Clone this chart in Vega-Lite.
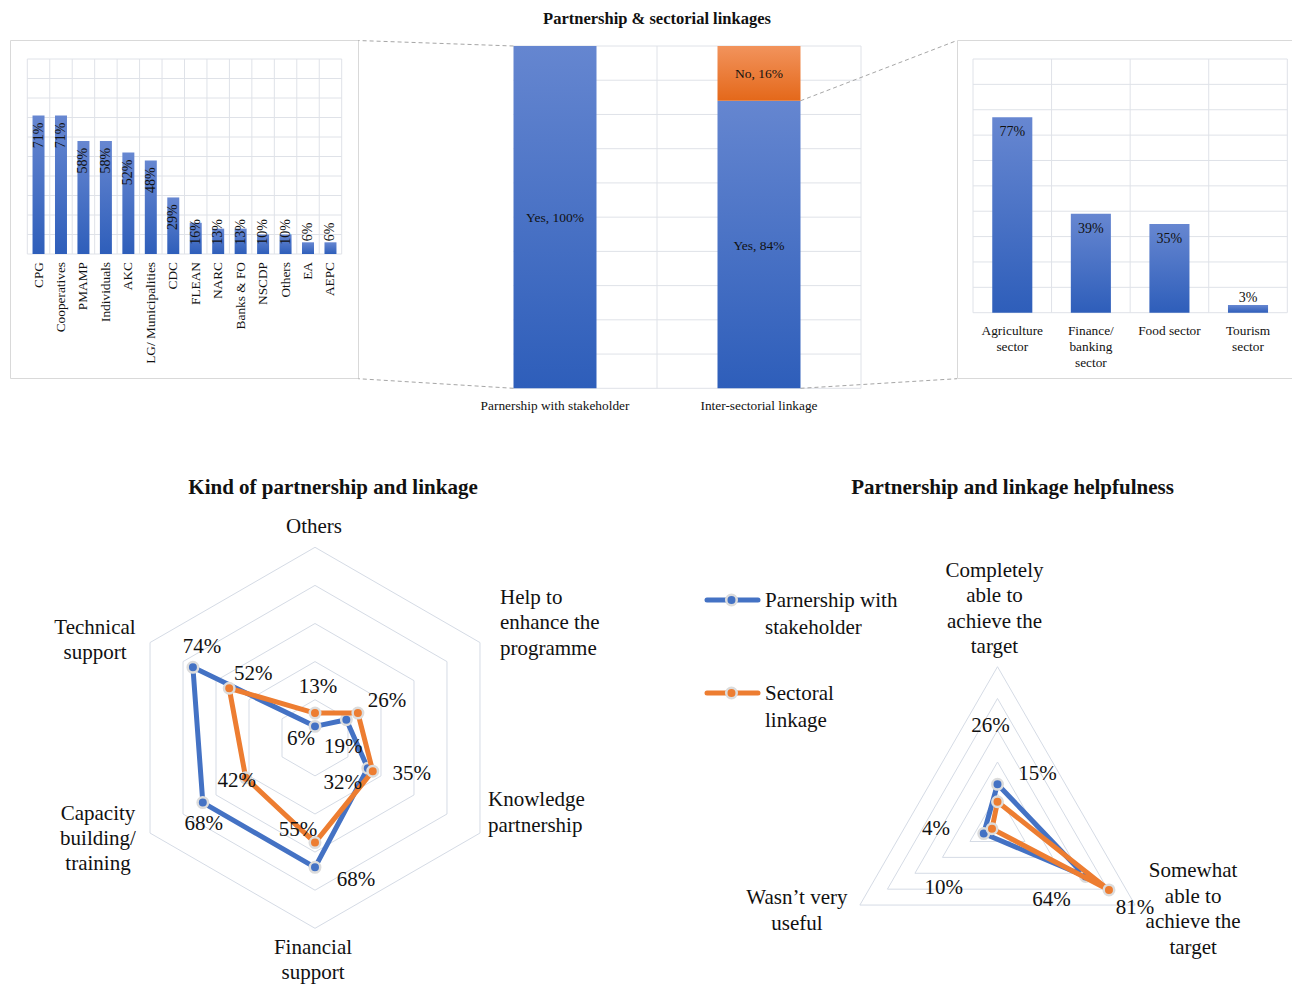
{
  "$schema": "https://vega.github.io/schema/vega-lite/v6.json",
  "width": 1292,
  "height": 985,
  "padding": 0,
  "autosize": {"type": "none"},
  "background": "#ffffff",
  "config": {
    "view": {"stroke": null},
    "axis": {"disable": true},
    "legend": {"disable": true},
    "font": "Liberation Serif",
    "text": {"font": "Liberation Serif", "color": "#111111"}
  },
  "datasets": {
    "partners": [
      {"org": "CPG", "share": 0.71},
      {"org": "Cooperatives", "share": 0.71},
      {"org": "PMAMP", "share": 0.58},
      {"org": "Individuals", "share": 0.58},
      {"org": "AKC", "share": 0.52},
      {"org": "LG/ Municipalities", "share": 0.48},
      {"org": "CDC", "share": 0.29},
      {"org": "FLEAN", "share": 0.16},
      {"org": "NARC", "share": 0.13},
      {"org": "Banks & FO", "share": 0.13},
      {"org": "NSCDP", "share": 0.10},
      {"org": "Others", "share": 0.10},
      {"org": "EA", "share": 0.06},
      {"org": "AEPC", "share": 0.06}
    ],
    "linkage": [
      {"group": "Parnership with stakeholder", "answer": "Yes", "share": 1.0},
      {"group": "Inter-sectorial linkage", "answer": "Yes", "share": 0.84},
      {"group": "Inter-sectorial linkage", "answer": "No", "share": 0.16}
    ],
    "sectors": [
      {"sector": "Agriculture sector", "label": "Agriculture\nsector", "share": 0.77},
      {"sector": "Finance/ banking sector", "label": "Finance/\nbanking\nsector", "share": 0.39},
      {"sector": "Food sector", "label": "Food sector", "share": 0.35},
      {"sector": "Tourism sector", "label": "Tourism\nsector", "share": 0.03}
    ],
    "ticks": [
      {"v": 0}, {"v": 0.1}, {"v": 0.2}, {"v": 0.3}, {"v": 0.4}, {"v": 0.5},
      {"v": 0.6}, {"v": 0.7}, {"v": 0.8}, {"v": 0.9}, {"v": 1.0}
    ],
    "kinds": [
      {"kind": "Others", "k": 0, "series": "Parnership with stakeholder", "share": 0.06},
      {"kind": "Help to enhance the programme", "k": 1, "series": "Parnership with stakeholder", "share": 0.19},
      {"kind": "Knowledge partnership", "k": 2, "series": "Parnership with stakeholder", "share": 0.32},
      {"kind": "Financial support", "k": 3, "series": "Parnership with stakeholder", "share": 0.68},
      {"kind": "Capacity building/ training", "k": 4, "series": "Parnership with stakeholder", "share": 0.68},
      {"kind": "Technical support", "k": 5, "series": "Parnership with stakeholder", "share": 0.74},
      {"kind": "Others", "k": 0, "series": "Sectoral linkage", "share": 0.13},
      {"kind": "Help to enhance the programme", "k": 1, "series": "Sectoral linkage", "share": 0.26},
      {"kind": "Knowledge partnership", "k": 2, "series": "Sectoral linkage", "share": 0.35},
      {"kind": "Financial support", "k": 3, "series": "Sectoral linkage", "share": 0.55},
      {"kind": "Capacity building/ training", "k": 4, "series": "Sectoral linkage", "share": 0.42},
      {"kind": "Technical support", "k": 5, "series": "Sectoral linkage", "share": 0.52}
    ],
    "kind_axes": [
      {"k": 0, "label": "Others"},
      {"k": 1, "label": "Help to\nenhance the\nprogramme"},
      {"k": 2, "label": "Knowledge\npartnership"},
      {"k": 3, "label": "Financial\nsupport"},
      {"k": 4, "label": "Capacity\nbuilding/\ntraining"},
      {"k": 5, "label": "Technical\nsupport"}
    ],
    "helpful": [
      {"outcome": "Completely able to achieve the target", "k": 0, "series": "Parnership with stakeholder", "share": 0.26},
      {"outcome": "Somewhat able to achieve the target", "k": 1, "series": "Parnership with stakeholder", "share": 0.64},
      {"outcome": "Wasn’t very useful", "k": 2, "series": "Parnership with stakeholder", "share": 0.10},
      {"outcome": "Completely able to achieve the target", "k": 0, "series": "Sectoral linkage", "share": 0.15},
      {"outcome": "Somewhat able to achieve the target", "k": 1, "series": "Sectoral linkage", "share": 0.81},
      {"outcome": "Wasn’t very useful", "k": 2, "series": "Sectoral linkage", "share": 0.04}
    ],
    "helpful_axes": [
      {"k": 0, "label": "Completely\nable to\nachieve the\ntarget"},
      {"k": 1, "label": "Somewhat\nable to\nachieve the\ntarget"},
      {"k": 2, "label": "Wasn’t very\nuseful"}
    ],
    "hex_rings": [
      {"level": 0.2, "k": [0, 1, 2, 3, 4, 5]},
      {"level": 0.4, "k": [0, 1, 2, 3, 4, 5]},
      {"level": 0.6, "k": [0, 1, 2, 3, 4, 5]},
      {"level": 0.8, "k": [0, 1, 2, 3, 4, 5]},
      {"level": 1.0, "k": [0, 1, 2, 3, 4, 5]}
    ],
    "tri_rings": [
      {"level": 0.2, "k": [0, 1, 2]},
      {"level": 0.4, "k": [0, 1, 2]},
      {"level": 0.6, "k": [0, 1, 2]},
      {"level": 0.8, "k": [0, 1, 2]},
      {"level": 1.0, "k": [0, 1, 2]}
    ],
    "series": [
      {"series": "Parnership with stakeholder", "label": "Parnership with\nstakeholder"},
      {"series": "Sectoral linkage", "label": "Sectoral\nlinkage"}
    ]
  },
  "resolve": {"scale": {"x": "independent", "y": "independent", "color": "independent"}},
  "layer": [
    {
      "data": {"values": [{"frame": "partners"}]},
      "mark": {"type": "rect", "fill": "transparent", "stroke": "#d9d9d9", "strokeWidth": 1},
      "encoding": {
        "x": {"datum": 0, "type": "quantitative", "scale": {"domain": [0, 1], "range": [10.5, 358.5], "nice": false, "zero": false}},
        "x2": {"datum": 1},
        "y": {"datum": 0, "type": "quantitative", "scale": {"domain": [0, 1], "range": [378.5, 40.5], "nice": false, "zero": false}},
        "y2": {"datum": 1}
      }
    },
    {
      "data": {"values": [{"frame": "sectors"}]},
      "mark": {"type": "rect", "fill": "transparent", "stroke": "#d9d9d9", "strokeWidth": 1},
      "encoding": {
        "x": {"datum": 0, "type": "quantitative", "scale": {"domain": [0, 1], "range": [957.5, 1300], "nice": false, "zero": false}},
        "x2": {"datum": 1},
        "y": {"datum": 0, "type": "quantitative", "scale": {"domain": [0, 1], "range": [378.5, 40.5], "nice": false, "zero": false}},
        "y2": {"datum": 1}
      }
    },
    {
      "data": {"name": "partners"},
      "layer": [
        {
          "mark": {"type": "rule", "color": "#dfe2e8", "strokeWidth": 1},
          "encoding": {
            "x": {"field": "org", "type": "nominal", "bandPosition": 0,
              "scale": {"domain": ["CPG", "Cooperatives", "PMAMP", "Individuals", "AKC", "LG/ Municipalities", "CDC", "FLEAN", "NARC", "Banks & FO", "NSCDP", "Others", "EA", "AEPC"],
                        "range": [27.3, 341.7], "paddingInner": 0, "paddingOuter": 0}},
            "y": {"datum": 0, "type": "quantitative", "scale": {"domain": [0, 1], "range": [254, 59], "nice": false}},
            "y2": {"datum": 1}
          }
        },
        {
          "data": {"values": [{"edge": "end"}]},
          "mark": {"type": "rule", "color": "#dfe2e8", "strokeWidth": 1},
          "encoding": {
            "x": {"datum": "AEPC", "type": "nominal", "bandPosition": 1},
            "y": {"datum": 0, "type": "quantitative"},
            "y2": {"datum": 1}
          }
        },
        {
          "data": {"name": "ticks"},
          "mark": {"type": "rule", "color": "#dfe2e8", "strokeWidth": 1},
          "encoding": {
            "y": {"field": "v", "type": "quantitative"},
            "x": {"datum": "CPG", "type": "nominal", "bandPosition": 0},
            "x2": {"datum": "AEPC", "bandPosition": 1}
          }
        },
        {
          "mark": {"type": "bar", "width": {"band": 0.534},
            "color": {"gradient": "linear", "x1": 0, "y1": 0, "x2": 0, "y2": 1,
              "stops": [{"offset": 0, "color": "#6787d1"}, {"offset": 1, "color": "#2e5eba"}]}},
          "encoding": {
            "x": {"field": "org", "type": "nominal"},
            "y": {"field": "share", "type": "quantitative"}
          }
        },
        {
          "transform": [{"filter": "datum.share >= 0.2"}],
          "mark": {"type": "text", "angle": 270, "align": "right", "baseline": "middle", "dx": -7, "fontSize": 14},
          "encoding": {
            "x": {"field": "org", "type": "nominal"},
            "y": {"field": "share", "type": "quantitative"},
            "text": {"field": "share", "type": "quantitative", "format": ".0%"}
          }
        },
        {
          "transform": [{"filter": "datum.share < 0.2"}],
          "mark": {"type": "text", "angle": 270, "align": "center", "baseline": "middle", "dx": 22, "fontSize": 14},
          "encoding": {
            "x": {"field": "org", "type": "nominal"},
            "y": {"datum": 0, "type": "quantitative"},
            "text": {"field": "share", "type": "quantitative", "format": ".0%"}
          }
        },
        {
          "mark": {"type": "text", "angle": 270, "align": "right", "baseline": "middle", "dx": -8, "fontSize": 13.33},
          "encoding": {
            "x": {"field": "org", "type": "nominal"},
            "y": {"datum": 0, "type": "quantitative"},
            "text": {"field": "org", "type": "nominal"}
          }
        }
      ]
    },
    {
      "data": {"name": "linkage"},
      "layer": [
        {
          "data": {"name": "ticks"},
          "mark": {"type": "rule", "color": "#dfe2e8", "strokeWidth": 1},
          "encoding": {
            "y": {"field": "v", "type": "quantitative", "scale": {"domain": [0, 1], "range": [388.3, 46], "nice": false}},
            "x": {"datum": "Parnership with stakeholder", "type": "nominal", "bandPosition": 0.2966,
              "scale": {"domain": ["Parnership with stakeholder", "Inter-sectorial linkage"], "range": [453, 861], "paddingInner": 0, "paddingOuter": 0}},
            "x2": {"datum": "Inter-sectorial linkage", "bandPosition": 1}
          }
        },
        {
          "data": {"values": [{"edge": "middle"}]},
          "mark": {"type": "rule", "color": "#dfe2e8", "strokeWidth": 1},
          "encoding": {
            "x": {"datum": "Inter-sectorial linkage", "type": "nominal", "bandPosition": 0},
            "y": {"datum": 0, "type": "quantitative"},
            "y2": {"datum": 1}
          }
        },
        {
          "data": {"values": [{"edge": "end"}]},
          "mark": {"type": "rule", "color": "#dfe2e8", "strokeWidth": 1},
          "encoding": {
            "x": {"datum": "Inter-sectorial linkage", "type": "nominal", "bandPosition": 1},
            "y": {"datum": 0, "type": "quantitative"},
            "y2": {"datum": 1}
          }
        },
        {
          "transform": [{"filter": "datum.group == 'Parnership with stakeholder'"}],
          "mark": {"type": "rule", "color": "#a6a6a6", "strokeWidth": 1, "strokeDash": [4, 3]},
          "encoding": {
            "x": {"datum": "Parnership with stakeholder", "type": "nominal", "bandPosition": 0.2966},
            "y": {"field": "share", "type": "quantitative"},
            "x2": {"datum": "Parnership with stakeholder", "bandPosition": -0.464},
            "y2": {"datum": 1.016}
          }
        },
        {
          "transform": [{"filter": "datum.group == 'Parnership with stakeholder'"}],
          "mark": {"type": "rule", "color": "#a6a6a6", "strokeWidth": 1, "strokeDash": [4, 3]},
          "encoding": {
            "x": {"datum": "Parnership with stakeholder", "type": "nominal", "bandPosition": 0.2966},
            "y": {"datum": 0, "type": "quantitative"},
            "x2": {"datum": "Parnership with stakeholder", "bandPosition": -0.464},
            "y2": {"datum": 0.028}
          }
        },
        {
          "transform": [{"filter": "datum.group == 'Inter-sectorial linkage' && datum.answer == 'Yes'"}],
          "mark": {"type": "rule", "color": "#a6a6a6", "strokeWidth": 1, "strokeDash": [4, 3]},
          "encoding": {
            "x": {"datum": "Inter-sectorial linkage", "type": "nominal", "bandPosition": 0.7034},
            "y": {"field": "share", "type": "quantitative"},
            "x2": {"datum": "Inter-sectorial linkage", "bandPosition": 1.4706},
            "y2": {"datum": 1.016}
          }
        },
        {
          "transform": [{"filter": "datum.group == 'Inter-sectorial linkage' && datum.answer == 'Yes'"}],
          "mark": {"type": "rule", "color": "#a6a6a6", "strokeWidth": 1, "strokeDash": [4, 3]},
          "encoding": {
            "x": {"datum": "Inter-sectorial linkage", "type": "nominal", "bandPosition": 0.7034},
            "y": {"datum": 0, "type": "quantitative"},
            "x2": {"datum": "Inter-sectorial linkage", "bandPosition": 1.4706},
            "y2": {"datum": 0.028}
          }
        },
        {
          "transform": [{"filter": "datum.answer == 'Yes'"}],
          "mark": {"type": "bar", "width": {"band": 0.4069},
            "color": {"gradient": "linear", "x1": 0, "y1": 0, "x2": 0, "y2": 1,
              "stops": [{"offset": 0, "color": "#6586d0"}, {"offset": 1, "color": "#2e5eba"}]}},
          "encoding": {
            "x": {"field": "group", "type": "nominal"},
            "y": {"field": "share", "type": "quantitative"}
          }
        },
        {
          "transform": [
            {"stack": "share", "groupby": ["group"], "sort": [{"field": "answer", "order": "descending"}], "as": ["y0", "y1"]},
            {"filter": "datum.answer == 'No'"}
          ],
          "mark": {"type": "bar", "width": {"band": 0.4069},
            "color": {"gradient": "linear", "x1": 0, "y1": 0, "x2": 0, "y2": 1,
              "stops": [{"offset": 0, "color": "#f2935c"}, {"offset": 1, "color": "#e4681a"}]}},
          "encoding": {
            "x": {"field": "group", "type": "nominal"},
            "y": {"field": "y1", "type": "quantitative"},
            "y2": {"field": "y0"}
          }
        },
        {
          "transform": [
            {"stack": "share", "groupby": ["group"], "sort": [{"field": "answer", "order": "descending"}], "as": ["y0", "y1"]},
            {"calculate": "(datum.y0 + datum.y1) / 2", "as": "mid"},
            {"calculate": "datum.answer + ', ' + format(datum.share, '.0%')", "as": "caption"}
          ],
          "mark": {"type": "text", "align": "center", "baseline": "middle", "dy": 1, "fontSize": 13.5},
          "encoding": {
            "x": {"field": "group", "type": "nominal"},
            "y": {"field": "mid", "type": "quantitative"},
            "text": {"field": "caption", "type": "nominal"}
          }
        },
        {
          "transform": [{"filter": "datum.answer == 'Yes'"}],
          "mark": {"type": "text", "align": "center", "baseline": "middle", "dy": 18, "fontSize": 13.33},
          "encoding": {
            "x": {"field": "group", "type": "nominal"},
            "y": {"datum": 0, "type": "quantitative"},
            "text": {"field": "group", "type": "nominal"}
          }
        },
        {
          "data": {"values": [{"title": "Partnership & sectorial linkages"}]},
          "mark": {"type": "text", "align": "center", "baseline": "middle", "fontSize": 16.5, "fontWeight": "bold"},
          "encoding": {
            "x": {"datum": "Inter-sectorial linkage", "type": "nominal", "bandPosition": 0},
            "y": {"datum": 1.079, "type": "quantitative"},
            "text": {"field": "title", "type": "nominal"}
          }
        }
      ]
    },
    {
      "data": {"name": "sectors"},
      "layer": [
        {
          "mark": {"type": "rule", "color": "#dfe2e8", "strokeWidth": 1},
          "encoding": {
            "x": {"field": "sector", "type": "nominal", "bandPosition": 0,
              "scale": {"domain": ["Agriculture sector", "Finance/ banking sector", "Food sector", "Tourism sector"],
                        "range": [973, 1287.3], "paddingInner": 0, "paddingOuter": 0}},
            "y": {"datum": 0, "type": "quantitative", "scale": {"domain": [0, 1], "range": [312.7, 59], "nice": false}},
            "y2": {"datum": 1}
          }
        },
        {
          "data": {"values": [{"edge": "end"}]},
          "mark": {"type": "rule", "color": "#dfe2e8", "strokeWidth": 1},
          "encoding": {
            "x": {"datum": "Tourism sector", "type": "nominal", "bandPosition": 1},
            "y": {"datum": 0, "type": "quantitative"},
            "y2": {"datum": 1}
          }
        },
        {
          "data": {"name": "ticks"},
          "mark": {"type": "rule", "color": "#dfe2e8", "strokeWidth": 1},
          "encoding": {
            "y": {"field": "v", "type": "quantitative"},
            "x": {"datum": "Agriculture sector", "type": "nominal", "bandPosition": 0},
            "x2": {"datum": "Tourism sector", "bandPosition": 1}
          }
        },
        {
          "mark": {"type": "bar", "width": {"band": 0.51},
            "color": {"gradient": "linear", "x1": 0, "y1": 0, "x2": 0, "y2": 1,
              "stops": [{"offset": 0, "color": "#6787d1"}, {"offset": 1, "color": "#2e5eba"}]}},
          "encoding": {
            "x": {"field": "sector", "type": "nominal"},
            "y": {"field": "share", "type": "quantitative"}
          }
        },
        {
          "transform": [{"filter": "datum.share >= 0.1"}],
          "mark": {"type": "text", "align": "center", "baseline": "middle", "dy": 15, "fontSize": 14},
          "encoding": {
            "x": {"field": "sector", "type": "nominal"},
            "y": {"field": "share", "type": "quantitative"},
            "text": {"field": "share", "type": "quantitative", "format": ".0%"}
          }
        },
        {
          "transform": [{"filter": "datum.share < 0.1"}],
          "mark": {"type": "text", "align": "center", "baseline": "middle", "dy": -7, "fontSize": 14},
          "encoding": {
            "x": {"field": "sector", "type": "nominal"},
            "y": {"field": "share", "type": "quantitative"},
            "text": {"field": "share", "type": "quantitative", "format": ".0%"}
          }
        },
        {
          "mark": {"type": "text", "align": "center", "baseline": "top", "dy": 11, "fontSize": 13.33, "lineBreak": "\n", "lineHeight": 16},
          "encoding": {
            "x": {"field": "sector", "type": "nominal"},
            "y": {"datum": 0, "type": "quantitative"},
            "text": {"field": "label", "type": "nominal"}
          }
        }
      ]
    },
    {
      "layer": [
        {
          "data": {"name": "hex_rings"},
          "transform": [
            {"flatten": ["k"]},
            {"calculate": "datum.level * sin(datum.k * PI / 3)", "as": "rx"},
            {"calculate": "datum.level * cos(datum.k * PI / 3)", "as": "ry"}
          ],
          "mark": {"type": "line", "interpolate": "linear-closed", "color": "#d5dbe5", "strokeWidth": 1},
          "encoding": {
            "x": {"field": "rx", "type": "quantitative", "scale": {"domain": [-1, 1], "range": [124.5, 505.5], "nice": false, "zero": false}},
            "y": {"field": "ry", "type": "quantitative", "scale": {"domain": [-1, 1], "range": [928.3, 547.3], "nice": false, "zero": false}},
            "detail": {"field": "level", "type": "nominal"},
            "order": {"field": "k", "type": "quantitative"}
          }
        },
        {
          "data": {"name": "kinds"},
          "transform": [
            {"filter": "datum.series == 'Parnership with stakeholder'"},
            {"calculate": "datum.share * sin(datum.k * PI / 3)", "as": "rx"},
            {"calculate": "datum.share * cos(datum.k * PI / 3)", "as": "ry"}
          ],
          "layer": [
            {
              "mark": {"type": "line", "interpolate": "linear-closed", "color": "#4472c4", "strokeWidth": 5, "strokeJoin": "round"},
              "encoding": {
                "x": {"field": "rx", "type": "quantitative"},
                "y": {"field": "ry", "type": "quantitative"},
                "order": {"field": "k", "type": "quantitative"}
              }
            },
            {
              "mark": {"type": "point", "shape": "circle", "filled": true, "size": 110, "color": "#4472c4", "stroke": "#dcdcdc", "strokeWidth": 2.5, "opacity": 1},
              "encoding": {
                "x": {"field": "rx", "type": "quantitative"},
                "y": {"field": "ry", "type": "quantitative"}
              }
            }
          ]
        },
        {
          "data": {"name": "kinds"},
          "transform": [
            {"filter": "datum.series == 'Sectoral linkage'"},
            {"calculate": "datum.share * sin(datum.k * PI / 3)", "as": "rx"},
            {"calculate": "datum.share * cos(datum.k * PI / 3)", "as": "ry"}
          ],
          "layer": [
            {
              "mark": {"type": "line", "interpolate": "linear-closed", "color": "#ed7d31", "strokeWidth": 5, "strokeJoin": "round"},
              "encoding": {
                "x": {"field": "rx", "type": "quantitative"},
                "y": {"field": "ry", "type": "quantitative"},
                "order": {"field": "k", "type": "quantitative"}
              }
            },
            {
              "mark": {"type": "point", "shape": "circle", "filled": true, "size": 110, "color": "#ed7d31", "stroke": "#dcdcdc", "strokeWidth": 2.5, "opacity": 1},
              "encoding": {
                "x": {"field": "rx", "type": "quantitative"},
                "y": {"field": "ry", "type": "quantitative"}
              }
            }
          ]
        },
        {
          "data": {"name": "kinds"},
          "transform": [
            {"calculate": "datum.share * sin(datum.k * PI / 3)", "as": "rx"},
            {"calculate": "datum.share * cos(datum.k * PI / 3)", "as": "ry"}
          ],
          "mark": {"type": "text", "align": "center", "baseline": "middle", "fontSize": 21,
            "dx": {"expr": "datum.series == 'Sectoral linkage' ? [3, 29, 39, -17, -9, 24][datum.k] : [-14, -3, -25, 41, 1, 9][datum.k]"},
            "dy": {"expr": "datum.series == 'Sectoral linkage' ? [-26, -12, 3, -13, 3, -14][datum.k] : [13, 27, 15, 13, 21, -20][datum.k]"}},
          "encoding": {
            "x": {"field": "rx", "type": "quantitative"},
            "y": {"field": "ry", "type": "quantitative"},
            "text": {"field": "share", "type": "quantitative", "format": ".0%"}
          }
        },
        {
          "data": {"name": "kind_axes"},
          "transform": [
            {"filter": "datum.k == 1 || datum.k == 2"},
            {"calculate": "sin(datum.k * PI / 3)", "as": "rx"},
            {"calculate": "cos(datum.k * PI / 3)", "as": "ry"}
          ],
          "mark": {"type": "text", "align": "left", "baseline": "top", "fontSize": 21, "lineBreak": "\n", "lineHeight": 25.5,
            "dx": {"expr": "datum.k == 1 ? 20 : 8"},
            "dy": {"expr": "datum.k == 1 ? -56 : -44"}},
          "encoding": {
            "x": {"field": "rx", "type": "quantitative"},
            "y": {"field": "ry", "type": "quantitative"},
            "text": {"field": "label", "type": "nominal"}
          }
        },
        {
          "data": {"name": "kind_axes"},
          "transform": [
            {"filter": "datum.k != 1 && datum.k != 2"},
            {"calculate": "sin(datum.k * PI / 3)", "as": "rx"},
            {"calculate": "cos(datum.k * PI / 3)", "as": "ry"}
          ],
          "mark": {"type": "text", "align": "center", "baseline": "top", "fontSize": 21, "lineBreak": "\n", "lineHeight": 25,
            "dx": {"expr": "[-1, 0, 0, -2, -52, -55][datum.k]"},
            "dy": {"expr": "[-31, 0, 0, 9, -30, -26][datum.k]"}},
          "encoding": {
            "x": {"field": "rx", "type": "quantitative"},
            "y": {"field": "ry", "type": "quantitative"},
            "text": {"field": "label", "type": "nominal"}
          }
        },
        {
          "data": {"values": [{"title": "Kind of partnership and linkage"}]},
          "mark": {"type": "text", "align": "center", "baseline": "middle", "fontSize": 21, "fontWeight": "bold"},
          "encoding": {
            "x": {"datum": 0.0945, "type": "quantitative"},
            "y": {"datum": 1.311, "type": "quantitative"},
            "text": {"field": "title", "type": "nominal"}
          }
        }
      ]
    },
    {
      "layer": [
        {
          "data": {"name": "tri_rings"},
          "transform": [
            {"flatten": ["k"]},
            {"calculate": "datum.level * sin(datum.k * 2 * PI / 3)", "as": "rx"},
            {"calculate": "datum.level * cos(datum.k * 2 * PI / 3)", "as": "ry"}
          ],
          "mark": {"type": "line", "interpolate": "linear-closed", "color": "#d5dbe5", "strokeWidth": 1},
          "encoding": {
            "x": {"field": "rx", "type": "quantitative", "scale": {"domain": [-1, 1], "range": [838.6, 1156.4], "nice": false, "zero": false}},
            "y": {"field": "ry", "type": "quantitative", "scale": {"domain": [-1, 1], "range": [984.5, 666.7], "nice": false, "zero": false}},
            "detail": {"field": "level", "type": "nominal"},
            "order": {"field": "k", "type": "quantitative"}
          }
        },
        {
          "data": {"name": "helpful"},
          "transform": [
            {"filter": "datum.series == 'Parnership with stakeholder'"},
            {"calculate": "datum.share * sin(datum.k * 2 * PI / 3)", "as": "rx"},
            {"calculate": "datum.share * cos(datum.k * 2 * PI / 3)", "as": "ry"}
          ],
          "layer": [
            {
              "mark": {"type": "line", "interpolate": "linear-closed", "color": "#4472c4", "strokeWidth": 5, "strokeJoin": "round"},
              "encoding": {
                "x": {"field": "rx", "type": "quantitative"},
                "y": {"field": "ry", "type": "quantitative"},
                "order": {"field": "k", "type": "quantitative"}
              }
            },
            {
              "mark": {"type": "point", "shape": "circle", "filled": true, "size": 110, "color": "#4472c4", "stroke": "#dcdcdc", "strokeWidth": 2.5, "opacity": 1},
              "encoding": {
                "x": {"field": "rx", "type": "quantitative"},
                "y": {"field": "ry", "type": "quantitative"}
              }
            }
          ]
        },
        {
          "data": {"name": "helpful"},
          "transform": [
            {"filter": "datum.series == 'Sectoral linkage'"},
            {"calculate": "datum.share * sin(datum.k * 2 * PI / 3)", "as": "rx"},
            {"calculate": "datum.share * cos(datum.k * 2 * PI / 3)", "as": "ry"}
          ],
          "layer": [
            {
              "mark": {"type": "line", "interpolate": "linear-closed", "color": "#ed7d31", "strokeWidth": 5, "strokeJoin": "round"},
              "encoding": {
                "x": {"field": "rx", "type": "quantitative"},
                "y": {"field": "ry", "type": "quantitative"},
                "order": {"field": "k", "type": "quantitative"}
              }
            },
            {
              "mark": {"type": "point", "shape": "circle", "filled": true, "size": 110, "color": "#ed7d31", "stroke": "#dcdcdc", "strokeWidth": 2.5, "opacity": 1},
              "encoding": {
                "x": {"field": "rx", "type": "quantitative"},
                "y": {"field": "ry", "type": "quantitative"}
              }
            }
          ]
        },
        {
          "data": {"name": "helpful"},
          "transform": [
            {"calculate": "datum.share * sin(datum.k * 2 * PI / 3)", "as": "rx"},
            {"calculate": "datum.share * cos(datum.k * 2 * PI / 3)", "as": "ry"}
          ],
          "mark": {"type": "text", "align": "center", "baseline": "middle", "fontSize": 21,
            "dx": {"expr": "datum.series == 'Sectoral linkage' ? [40, 26, -56][datum.k] : [-7, -34, -40][datum.k]"},
            "dy": {"expr": "datum.series == 'Sectoral linkage' ? [-28, 18, 0][datum.k] : [-58, 24, 54][datum.k]"}},
          "encoding": {
            "x": {"field": "rx", "type": "quantitative"},
            "y": {"field": "ry", "type": "quantitative"},
            "text": {"field": "share", "type": "quantitative", "format": ".0%"}
          }
        },
        {
          "data": {"name": "helpful_axes"},
          "transform": [
            {"calculate": "sin(datum.k * 2 * PI / 3)", "as": "rx"},
            {"calculate": "cos(datum.k * 2 * PI / 3)", "as": "ry"}
          ],
          "mark": {"type": "text", "align": "center", "baseline": "top", "fontSize": 21, "lineBreak": "\n", "lineHeight": 25.5,
            "dx": {"expr": "[-3, 58, -63][datum.k]"},
            "dy": {"expr": "[-107, -45, -18][datum.k]"}},
          "encoding": {
            "x": {"field": "rx", "type": "quantitative"},
            "y": {"field": "ry", "type": "quantitative"},
            "text": {"field": "label", "type": "nominal"}
          }
        },
        {
          "data": {"values": [{"title": "Partnership and linkage helpfulness"}]},
          "mark": {"type": "text", "align": "center", "baseline": "middle", "fontSize": 21, "fontWeight": "bold"},
          "encoding": {
            "x": {"datum": 0.0944, "type": "quantitative"},
            "y": {"datum": 2.1246, "type": "quantitative"},
            "text": {"field": "title", "type": "nominal"}
          }
        }
      ]
    },
    {
      "data": {"name": "series"},
      "layer": [
        {
          "mark": {"type": "rule", "strokeWidth": 5, "strokeCap": "round"},
          "encoding": {
            "x": {"datum": 0, "type": "quantitative", "scale": {"domain": [0, 1], "range": [707, 758], "nice": false, "zero": false}},
            "x2": {"datum": 1},
            "y": {"field": "series", "type": "nominal", "scale": {"type": "point", "domain": ["Parnership with stakeholder", "Sectoral linkage"], "range": [600, 693], "padding": 0}},
            "color": {"field": "series", "type": "nominal", "legend": null,
              "scale": {"domain": ["Parnership with stakeholder", "Sectoral linkage"], "range": ["#4472c4", "#ed7d31"]}}
          }
        },
        {
          "mark": {"type": "point", "shape": "circle", "filled": true, "size": 110, "stroke": "#dcdcdc", "strokeWidth": 2.5, "opacity": 1},
          "encoding": {
            "x": {"datum": 0.48, "type": "quantitative"},
            "y": {"field": "series", "type": "nominal"},
            "color": {"field": "series", "type": "nominal", "legend": null}
          }
        },
        {
          "mark": {"type": "text", "align": "left", "baseline": "top", "dx": 7, "dy": -10, "fontSize": 21, "lineBreak": "\n", "lineHeight": 26.5},
          "encoding": {
            "x": {"datum": 1, "type": "quantitative"},
            "y": {"field": "series", "type": "nominal"},
            "text": {"field": "label", "type": "nominal"}
          }
        }
      ]
    }
  ]
}
